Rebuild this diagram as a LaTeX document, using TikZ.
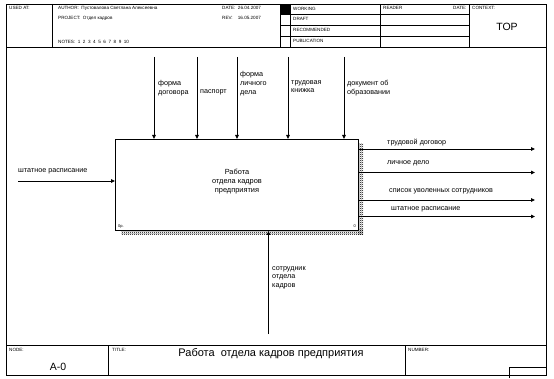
\documentclass[tikz,border=0pt]{standalone}
\usepackage{fontspec}
\setmainfont{Liberation Sans}
\usetikzlibrary{arrows.meta,patterns}
\pgfdeclarepatternformonly{dither}{\pgfqpoint{0pt}{0pt}}{\pgfqpoint{2pt}{2pt}}{\pgfqpoint{2pt}{2pt}}{%
  \pgfpathrectangle{\pgfqpoint{0pt}{0pt}}{\pgfqpoint{1pt}{1pt}}%
  \pgfpathrectangle{\pgfqpoint{1pt}{1pt}}{\pgfqpoint{1pt}{1pt}}%
  \pgfusepath{fill}}
\begin{document}
\begin{tikzpicture}[x=1pt,y=-1pt,
  frame/.style={line width=0.9pt},
  arr/.style={line width=0.9pt,-{Triangle[length=4pt,width=3.5pt]}},
  lab/.style={inner sep=0pt,anchor=north west,align=left,font=\fontsize{7.2}{8.6}\selectfont},
  hdr/.style={inner sep=0pt,anchor=base west,font=\fontsize{4.6}{5}\selectfont},
  tiny/.style={inner sep=0pt,font=\fontsize{4}{4}\selectfont}]
\useasboundingbox (0,0) rectangle (554,379);
% outer frame
\draw[frame] (6,4) rectangle (546,375);
\draw[frame] (6,47) -- (546,47);
\draw[frame] (6,345) -- (546,345);
% header cells
\draw[frame] (52,4) -- (52,47);
\draw[frame] (280,4) -- (280,47);
\draw[frame] (290,4) -- (290,47);
\draw[frame] (380,4) -- (380,47);
\draw[frame] (469,4) -- (469,47);
\draw[frame] (280,14) -- (469,14);
\draw[frame] (280,25) -- (469,25);
\draw[frame] (280,36) -- (469,36);
\fill (280,4) rectangle (290,14);
% footer cells
\draw[frame] (108,345) -- (108,375);
\draw[frame] (405,345) -- (405,375);
\draw[frame] (509,378) -- (509,367) -- (546,367);
% header texts
\node[hdr] (usedat) at (9,10) {USED AT:};
\node[hdr] (author) at (58,10) {AUTHOR:\ \ Пустовалова Светлана Алексеевна};
\node[hdr] (project) at (58,20) {PROJECT:\ \ Отдел кадров};
\node[hdr] (notes) at (58,44) {NOTES:\ \ 1\ \ 2\ \ 3\ \ 4\ \ 5\ \ 6\ \ 7\ \ 8\ \ 9\ \ 10};
\node[hdr] (date) at (222,10) {DATE:\ \ 26.04.2007};
\node[hdr] (rev) at (222,20) {REV:\ \ \ \ 16.05.2007};
\node[hdr] (working) at (293,10.5) {WORKING};
\node[hdr] (draft) at (293,21) {DRAFT};
\node[hdr] (recom) at (293,32) {RECOMMENDED};
\node[hdr] (publ) at (293,43) {PUBLICATION};
\node[hdr] (reader) at (383,10) {READER};
\node[hdr] (rdate) at (453,10) {DATE:};
\node[hdr] (context) at (472,10) {CONTEXT:};
\node[inner sep=0pt,font=\fontsize{10.5}{11}\selectfont] (top) at (507,27) {TOP};
% footer texts
\node[hdr] (node) at (9,351) {NODE:};
\node[hdr] (title) at (112,351) {TITLE:};
\node[hdr] (number) at (408,351) {NUMBER:};
\node[inner sep=0pt,font=\fontsize{10.5}{11}\selectfont] (a0) at (58,367) {A-0};
\node[inner sep=0pt,font=\fontsize{11}{12}\selectfont] (ttl) at (271,354) {Работа\ \ отдела кадров предприятия};
% shadow
\fill[pattern=dither,pattern color=black] (358,144) rectangle (363,235);
\fill[pattern=dither,pattern color=black] (121,230) rectangle (363,235);
% main box
\node[draw,line width=0.9pt,fill=white,minimum width=243pt,minimum height=91pt,anchor=north west,inner sep=0pt] (A0) at (115,139) {};
\node[inner sep=0pt,align=center,font=\fontsize{7.4}{9}\selectfont] (A0txt) at (237,182) {Работа\\отдела кадров\\предприятия};
\node[tiny,anchor=base west] (cost) at (118,228) {0р.};
\node[tiny,anchor=base east] (num) at (356,228) {0};
% input
\coordinate (i1) at (18,181);
\draw[arr] (i1) -- (i1 -| A0.west);
\node[lab] (li1) at (18,168) {штатное расписание};
% controls
\coordinate (c1) at (154,57);
\coordinate (c2) at (197,57);
\coordinate (c3) at (237,57);
\coordinate (c4) at (288,57);
\coordinate (c5) at (344,57);
\foreach \c in {c1,c2,c3,c4,c5} \draw[arr] (\c) -- (\c |- A0.north);
\node[lab] (lc1) at (158,80) {форма\\договора};
\node[lab] (lc2) at (200,89) {паспорт};
\node[lab] (lc3) at (240,71.5) {форма\\личного\\дела};
\node[lab] (lc4) at (291,80) {трудовая\\книжка};
\node[lab] (lc5) at (347,80) {документ об\\образовании};
% outputs
\coordinate (o1) at (535,149);
\coordinate (o2) at (535,172.5);
\coordinate (o3) at (535,200);
\coordinate (o4) at (535,216.5);
\foreach \o in {o1,o2,o3,o4} \draw[arr] (\o -| A0.east) -- (\o);
\node[lab] (lo1) at (387,139) {трудовой договор};
\node[lab] (lo2) at (387,160.5) {личное дело};
\node[lab] (lo3) at (389,188) {список уволенных\ сотрудников};
\node[lab] (lo4) at (391,206) {штатное\ расписание};
% mechanism
\coordinate (m1) at (268.5,334);
\draw[arr] (m1) -- (m1 |- A0.south);
\node[lab] (lm1) at (272,266) {сотрудник\\отдела\\кадров};
\end{tikzpicture}
\end{document}
